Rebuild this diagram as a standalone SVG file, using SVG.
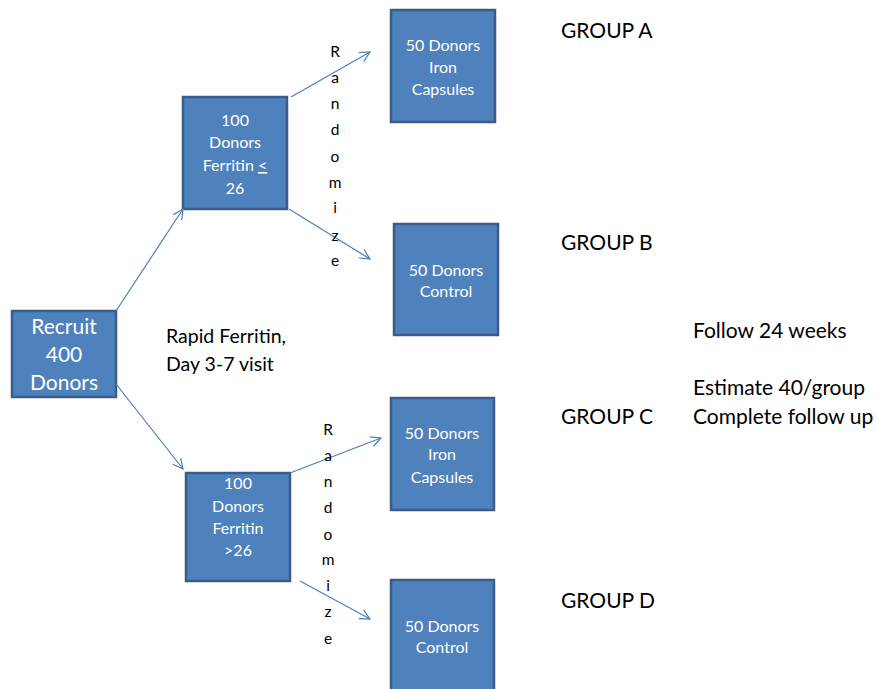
<svg xmlns="http://www.w3.org/2000/svg" width="885" height="689" viewBox="0 0 885 689">
<style>
.box{fill:#4F81BD;stroke:#385D8A;stroke-width:2.5}
.bt{font-family:Lato,"Liberation Sans",sans-serif;font-size:16px;fill:#fff;text-anchor:middle}
.big{font-size:21px}
.lbl{font-family:Lato,"Liberation Sans",sans-serif;font-size:21px;fill:#000}
.rnd{font-family:Lato,"Liberation Sans",sans-serif;font-size:15.5px;fill:#000;text-anchor:middle}
.conn line{stroke:#4A7EBB;stroke-width:1.2;fill:none;marker-end:url(#ah)}
</style>
<defs>
<marker id="ah" viewBox="0 0 12 12" refX="11" refY="6" markerWidth="12" markerHeight="12" markerUnits="userSpaceOnUse" orient="auto">
<path d="M1,1 L11,6 L1,11" fill="none" stroke="#4A7EBB" stroke-width="1.2"/>
</marker>
</defs>
<rect width="885" height="689" fill="#fff"/>
<g id="recruit"><rect class="box" x="12" y="311" width="104" height="86"/>
<text class="bt big" x="64" y="334">Recruit</text><text class="bt big" x="64" y="362">400</text><text class="bt big" x="64" y="390">Donors</text></g>
<g id="low"><rect class="box" x="183" y="97" width="104" height="112"/>
<text class="bt" x="235" y="126">100</text><text class="bt" x="235" y="148">Donors</text><text class="bt" x="235" y="171">Ferritin <tspan text-decoration="underline">&lt;</tspan></text><text class="bt" x="235" y="194">26</text></g>
<g id="groupA"><rect class="box" x="391" y="10" width="104" height="112"/>
<text class="bt" x="443" y="51">50 Donors</text><text class="bt" x="443" y="73">Iron</text><text class="bt" x="443" y="95">Capsules</text></g>
<g id="groupB"><rect class="box" x="394" y="224" width="104" height="111"/>
<text class="bt" x="446" y="276">50 Donors</text><text class="bt" x="446" y="297">Control</text></g>
<g id="high"><rect class="box" x="186" y="473" width="104" height="108"/>
<text class="bt" x="238" y="489">100</text><text class="bt" x="238" y="512">Donors</text><text class="bt" x="238" y="534">Ferritin</text><text class="bt" x="238" y="556">&gt;26</text></g>
<g id="groupC"><rect class="box" x="391" y="398" width="103" height="112"/>
<text class="bt" x="442" y="439">50 Donors</text><text class="bt" x="442" y="460">Iron</text><text class="bt" x="442" y="483">Capsules</text></g>
<g id="groupD"><rect class="box" x="391" y="580" width="103" height="112"/>
<text class="bt" x="442" y="632">50 Donors</text><text class="bt" x="442" y="653">Control</text></g>
<g class="conn">
<line x1="116" y1="311" x2="183" y2="209"/>
<line x1="116" y1="384" x2="183" y2="469"/>
<line x1="291" y1="97" x2="370" y2="52"/>
<line x1="289" y1="209" x2="370" y2="259"/>
<line x1="290" y1="473" x2="381" y2="438"/>
<line x1="300" y1="581" x2="370" y2="619"/>
</g>
<g id="rand1" class="rnd">
<text x="335" y="57">R</text><text x="335" y="83">a</text><text x="335" y="109">n</text><text x="335" y="135">d</text><text x="335" y="162">o</text><text x="335" y="188">m</text><text x="335" y="213">i</text><text x="335" y="241">z</text><text x="335" y="266">e</text>
</g>
<g id="rand2" class="rnd">
<text x="328" y="435">R</text><text x="328" y="461">a</text><text x="328" y="487">n</text><text x="328" y="513">d</text><text x="328" y="540">o</text><text x="328" y="565">m</text><text x="328" y="591">i</text><text x="328" y="617">z</text><text x="328" y="644">e</text>
</g>
<g id="labels" class="lbl">
<text x="166" y="343" font-size="19.5">Rapid Ferritin,</text>
<text x="166" y="371" font-size="19.5">Day 3-7 visit</text>
<text x="561" y="38">GROUP A</text>
<text x="561" y="250">GROUP B</text>
<text x="561" y="424">GROUP C</text>
<text x="561" y="608">GROUP D</text>
<text x="693" y="338">Follow 24 weeks</text>
<text x="693" y="395">Estimate 40/group</text>
<text x="693" y="424">Complete follow up</text>
</g>
</svg>
